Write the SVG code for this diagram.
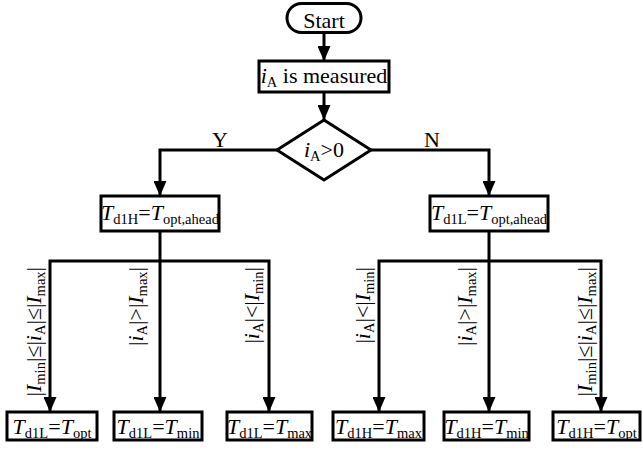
<svg xmlns="http://www.w3.org/2000/svg" width="643" height="451" viewBox="0 0 643 451">
<style>
.n{fill:#fff;stroke:#000;stroke-width:3}
.c{fill:none;stroke:#000;stroke-width:3;stroke-linejoin:miter;stroke-linecap:butt}
.a{marker-end:url(#ah)}
text{font-family:"Liberation Serif","Times New Roman",serif;font-size:22px;fill:#000}
.m{text-anchor:middle}
.e{text-anchor:end}
.i{font-style:italic}
.s{font-size:14.5px}
</style>
<defs>
<marker id="ah" markerUnits="userSpaceOnUse" markerWidth="15" markerHeight="13" refX="15" refY="6.5" orient="auto">
<path d="M0,0 L15,6.5 L0,13 Z" fill="#000"/>
</marker>
</defs>
<g id="connectors">
<path class="c a" d="M324,32.5 V61"/>
<path class="c a" d="M324,92 V120"/>
<path class="c a" d="M277,150 H160 V196"/>
<path class="c a" d="M371,150 H489 V196"/>
<path class="c a" d="M160,231 V412"/>
<path class="c a" d="M160,261 H50 V412"/>
<path class="c a" d="M160,261 H269 V412"/>
<path class="c a" d="M489,231 V412"/>
<path class="c a" d="M489,261 H379 V412"/>
<path class="c a" d="M489,261 H601 V412"/>
</g>
<g id="start">
<rect class="n" x="287" y="3.5" width="74" height="29" rx="14.5"/>
<text class="m" x="324" y="27.5">Start</text>
</g>
<g id="measure">
<rect class="n" x="259" y="61" width="130" height="31"/>
<text class="m" x="324" y="83"><tspan class="i">i</tspan><tspan class="s" dy="4">A</tspan><tspan dy="-4"> is measured</tspan></text>
</g>
<g id="decision">
<polygon class="n" points="324,120 371,150 324,180 277,150"/>
<text class="m" x="324" y="157"><tspan class="i">i</tspan><tspan class="s" dy="4">A</tspan><tspan dy="-4">&gt;0</tspan></text>
</g>
<g id="labelY"><text class="m" x="220" y="147">Y</text></g>
<g id="labelN"><text class="m" x="432" y="147">N</text></g>
<g id="boxH">
<rect class="n" x="101" y="196" width="118" height="35"/>
<text class="m" x="160" y="220"><tspan class="i">T</tspan><tspan class="s" dy="4">d1H</tspan><tspan dy="-4">=</tspan><tspan class="i">T</tspan><tspan class="s" dy="4">opt,ahead</tspan></text>
</g>
<g id="boxL">
<rect class="n" x="430" y="196" width="118" height="35"/>
<text class="m" x="489" y="220"><tspan class="i">T</tspan><tspan class="s" dy="4">d1L</tspan><tspan dy="-4">=</tspan><tspan class="i">T</tspan><tspan class="s" dy="4">opt,ahead</tspan></text>
</g>
<g id="cond1"><text class="e" transform="translate(41,267) rotate(-90)">|<tspan class="i">I</tspan><tspan class="s" dy="4">min</tspan><tspan dy="-4">|≤|</tspan><tspan class="i">i</tspan><tspan class="s" dy="4">A</tspan><tspan dy="-4">|≤|</tspan><tspan class="i">I</tspan><tspan class="s" dy="4">max</tspan><tspan dy="-4">|</tspan></text></g>
<g id="cond2"><text class="e" transform="translate(143,267) rotate(-90)">|<tspan class="i">i</tspan><tspan class="s" dy="4">A</tspan><tspan dy="-4">|&gt;|</tspan><tspan class="i">I</tspan><tspan class="s" dy="4">max</tspan><tspan dy="-4">|</tspan></text></g>
<g id="cond3"><text class="e" transform="translate(259,267) rotate(-90)">|<tspan class="i">i</tspan><tspan class="s" dy="4">A</tspan><tspan dy="-4">|&lt;|</tspan><tspan class="i">I</tspan><tspan class="s" dy="4">min</tspan><tspan dy="-4">|</tspan></text></g>
<g id="cond4"><text class="e" transform="translate(370,267) rotate(-90)">|<tspan class="i">i</tspan><tspan class="s" dy="4">A</tspan><tspan dy="-4">|&lt;|</tspan><tspan class="i">I</tspan><tspan class="s" dy="4">min</tspan><tspan dy="-4">|</tspan></text></g>
<g id="cond5"><text class="e" transform="translate(472,267) rotate(-90)">|<tspan class="i">i</tspan><tspan class="s" dy="4">A</tspan><tspan dy="-4">|&gt;|</tspan><tspan class="i">I</tspan><tspan class="s" dy="4">max</tspan><tspan dy="-4">|</tspan></text></g>
<g id="cond6"><text class="e" transform="translate(592,267) rotate(-90)">|<tspan class="i">I</tspan><tspan class="s" dy="4">min</tspan><tspan dy="-4">|≤|</tspan><tspan class="i">i</tspan><tspan class="s" dy="4">A</tspan><tspan dy="-4">|≤|</tspan><tspan class="i">I</tspan><tspan class="s" dy="4">max</tspan><tspan dy="-4">|</tspan></text></g>
<g id="out1">
<rect class="n" x="7" y="412" width="90" height="28"/>
<text class="m" x="52" y="434"><tspan class="i">T</tspan><tspan class="s" dy="4">d1L</tspan><tspan dy="-4">=</tspan><tspan class="i">T</tspan><tspan class="s" dy="4">opt</tspan></text>
</g>
<g id="out2">
<rect class="n" x="114" y="412" width="88" height="28"/>
<text class="m" x="158" y="434"><tspan class="i">T</tspan><tspan class="s" dy="4">d1L</tspan><tspan dy="-4">=</tspan><tspan class="i">T</tspan><tspan class="s" dy="4">min</tspan></text>
</g>
<g id="out3">
<rect class="n" x="227" y="412" width="85" height="28"/>
<text class="m" x="269.5" y="434"><tspan class="i">T</tspan><tspan class="s" dy="4">d1L</tspan><tspan dy="-4">=</tspan><tspan class="i">T</tspan><tspan class="s" dy="4">max</tspan></text>
</g>
<g id="out4">
<rect class="n" x="333" y="412" width="91" height="28"/>
<text class="m" x="378.5" y="434"><tspan class="i">T</tspan><tspan class="s" dy="4">d1H</tspan><tspan dy="-4">=</tspan><tspan class="i">T</tspan><tspan class="s" dy="4">max</tspan></text>
</g>
<g id="out5">
<rect class="n" x="444" y="412" width="85" height="28"/>
<text class="m" x="486.5" y="434"><tspan class="i">T</tspan><tspan class="s" dy="4">d1H</tspan><tspan dy="-4">=</tspan><tspan class="i">T</tspan><tspan class="s" dy="4">min</tspan></text>
</g>
<g id="out6">
<rect class="n" x="553" y="412" width="87" height="28"/>
<text class="m" x="596.5" y="434"><tspan class="i">T</tspan><tspan class="s" dy="4">d1H</tspan><tspan dy="-4">=</tspan><tspan class="i">T</tspan><tspan class="s" dy="4">opt</tspan></text>
</g>
</svg>
